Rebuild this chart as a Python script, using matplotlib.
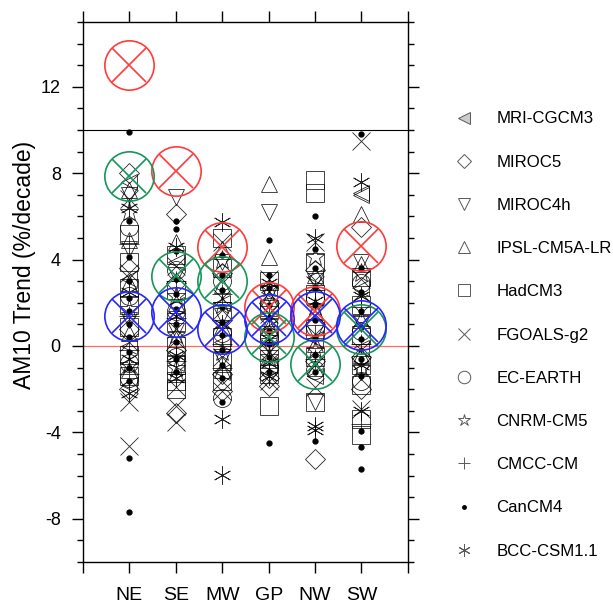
import numpy as np
import matplotlib
matplotlib.use('Agg')
import matplotlib.pyplot as plt
from matplotlib.lines import Line2D
from matplotlib.ticker import MultipleLocator

plt.rcParams['font.family'] = ['Liberation Sans', 'DejaVu Sans']
plt.rcParams['axes.unicode_minus'] = False

regions = ['NE', 'SE', 'MW', 'GP', 'NW', 'SW']

# ensemble trends per model, one list per region (NE, SE, MW, GP, NW, SW)
mri_cgcm3 = [[7.6, 3.1, 0.0, -1.8], [3.9, 1.9, -0.8], [2.0, 0.2, -1.2],
             [2.5, 0.8, -0.9], [3.2, 0.3, -1.4], [7.1, 7.0, 2.7, -0.1]]
miroc5 = [[8.0, 3.6, 0.8, -2.0], [6.1, 2.9, -0.2, -3.1], [3.4, 1.2, -1.3, -2.1],
          [2.0, -0.1, -1.85, -1.5], [3.5, 1.0, -0.7, -5.25], [5.5, 2.0, -0.5, -2.0]]
miroc4h = [[7.0, 4.5, 1.2], [6.9, 3.3, 0.7], [3.9, 1.4, -0.6],
           [6.2, 2.4, 0.0], [3.0, 0.6, -2.6], [3.9, 1.0, -1.2]]
ipsl_cm5a_lr = [[7.2, 4.9, 2.9, 0.6, -1.1], [4.8, 2.0, 0.3, -1.3], [4.5, 2.8, 0.9, -1.1],
                [7.5, 4.1, 2.2, 0.9], [3.3, 1.6, 0.1, -1.0], [6.1, 3.8, 1.2, -0.4]]
hadcm3 = [[5.2, 3.9, 2.7, 1.9, 0.9, -0.4, -1.4], [4.2, 2.6, 1.1, 0.0, -0.9, -1.6, -2.0],
          [5.0, 3.6, 1.6, 0.4, -0.7, -1.6], [3.0, 1.7, 0.5, -0.6, -1.3, -2.8],
          [7.7, 7.1, 3.9, 2.4, 0.8, -0.5, -2.6], [3.2, 1.9, 0.5, -0.9, -1.8, -3.4, -4.1]]
fgoals_g2 = [[6.8, 3.4, 0.2, -2.6, -4.65], [3.7, 0.8, -1.9, -2.8, -3.5], [4.8, 2.2, -0.5, -2.1],
             [3.1, 1.5, -0.3, -1.6], [4.8, 2.8, -0.9, -1.9], [9.5, 3.1, -0.2, -2.9]]
ec_earth = [[5.5, 2.3, -0.8, -1.5], [3.5, 1.6, -0.5], [3.0, 0.6, -2.4],
            [1.8, 0.4, -1.0], [2.2, 0.9, -1.1], [2.9, 0.7, -1.6]]
cnrm_cm5 = [[6.2, 1.7, -0.9], [2.3, 0.5, -1.0], [4.0, 1.9, -0.3],
            [2.7, 1.1, -0.5], [4.1, 1.8, -0.2], [3.4, 1.3, -1.0]]
cmcc_cm = [[4.7, 1.4, -0.2, -1.3], [3.0, 1.3, -0.7], [2.4, 0.1, -1.0],
           [1.4, 0.2, -0.7], [2.6, 0.5, -0.6], [1.8, 0.1, -3.6]]
cancm4 = [[9.9, 5.8, 4.1, 3.0, 2.2, 1.6, 1.0, 0.4, -0.3, -1.0, -1.6, -5.2, -7.7],
          [5.8, 5.4, 4.4, 3.1, 2.4, 1.7, 1.0, 0.2, -0.6, -1.2],
          [4.2, 3.3, 2.6, 1.8, 1.1, 0.5, -0.2, -0.9, -1.5, -2.6],
          [4.9, 3.3, 2.7, 1.9, 1.3, 0.7, 0.1, -0.5, -1.2, -4.5],
          [6.0, 4.5, 3.6, 2.7, 1.9, 1.2, 0.4, -0.4, -1.2, -4.4],
          [9.8, 3.6, 2.5, 1.6, 0.9, 0.3, -0.6, -1.4, -3.95, -4.7, -5.7]]
bcc_csm11 = [[6.4, 2.5, -0.6, -2.2], [4.6, 1.4, -0.4, -1.5], [5.75, 1.0, -3.4, -5.95],
             [2.9, 0.3, -0.8, -1.4], [5.0, 2.1, -3.7, -3.9], [7.6, 2.3, -0.9, -3.0]]

# ensemble-mean style big markers
red_mean = [13.0, 8.1, 4.6, 1.8, 1.6, 4.65]
green_mean = [7.85, 3.25, 3.0, 0.4, -0.85, 0.8]
blue_mean = [1.4, 1.55, 0.8, 1.25, 1.4, 0.95]

models = [
    ('MRI-CGCM3', mri_cgcm3, '<'),
    ('MIROC5', miroc5, 'D'),
    ('MIROC4h', miroc4h, 'v'),
    ('IPSL-CM5A-LR', ipsl_cm5a_lr, '^'),
    ('HadCM3', hadcm3, 's'),
    ('FGOALS-g2', fgoals_g2, 'x'),
    ('EC-EARTH', ec_earth, 'o'),
    ('CNRM-CM5', cnrm_cm5, '*'),
    ('CMCC-CM', cmcc_cm, '+'),
    ('CanCM4', cancm4, '.'),
    ('BCC-CSM1.1', bcc_csm11, (6, 2, 0)),
]
sizes = {'<': 12, 'D': 10, 'v': 12, '^': 12, 's': 13, 'x': 13, 'o': 13,
         '*': 14, '+': 14, '.': 6}

fig = plt.figure(figsize=(6.13, 6.05), dpi=100)
ax = fig.add_axes([0.1354, 0.0711, 0.530, 0.8926])

x = np.arange(1, len(regions) + 1)

ax.axhline(10, color='k', lw=0.8, zorder=1)
ax.axhline(0, color='#ff6a6a', lw=0.9, zorder=1)

for name, vals, m in models:
    ms = sizes.get(m, 13) if not isinstance(m, tuple) else 13
    for i, v in enumerate(vals):
        if m == '.':
            ax.plot([x[i]] * len(v), v, ls='none', marker='o', ms=3.5,
                    mfc='k', mec='k', zorder=3)
        else:
            ax.plot([x[i]] * len(v), v, ls='none', marker=m, ms=ms,
                    mfc='none', mec='k', mew=0.6, alpha=0.85, zorder=3)

for vals, c in [(red_mean, '#ff3b3b'), (green_mean, '#17955a'), (blue_mean, '#2626ff')]:
    ax.plot(x, vals, ls='none', marker='o', ms=35.5, mfc='none', mec=c, mew=1.2, zorder=4)
    ax.plot(x, vals, ls='none', marker='x', ms=35.5 / np.sqrt(2), mec=c, mew=1.2, zorder=4)

ax.set_xlim(0, 7)
ax.set_ylim(-10, 15)
ax.set_xticks(np.arange(0, 8))
ax.set_xticklabels([''] + regions + [''])
ax.set_yticks([-8, -4, 0, 4, 8, 12])
ax.yaxis.set_minor_locator(MultipleLocator(1))
ax.tick_params(which='both', direction='out', top=True, right=True, width=1.0)
ax.tick_params(which='major', length=8)
ax.tick_params(which='minor', length=4)
ax.tick_params(axis='y', labelsize=13, pad=8)
ax.tick_params(axis='x', labelsize=14, pad=10)
for s in ax.spines.values():
    s.set_linewidth(1.0)

ax.set_ylabel('AM10 Trend (%/decade)', fontsize=16.5)
ax.yaxis.set_label_coords(-0.145, 0.55)

handles = []
for name, vals, m in models:
    if m == '.':
        h = Line2D([], [], ls='none', marker='o', ms=2.5, mfc='k', mec='k')
    elif m == '<':
        h = Line2D([], [], ls='none', marker='<', ms=8, mfc='0.8', mec='0.35', mew=0.7)
    else:
        lm = 7 if m == 'D' else 9
        h = Line2D([], [], ls='none', marker=m, ms=lm, mfc='none', mec='0.35', mew=0.7)
    handles.append(h)

fig.legend(handles, [mm[0] for mm in models], loc='upper left',
           bbox_to_anchor=(0.733, 0.827), frameon=False, fontsize=12.1,
           labelspacing=1.68, handlelength=1.0, handletextpad=1.4,
           borderaxespad=0)

fig.savefig('out.png', dpi=100)
